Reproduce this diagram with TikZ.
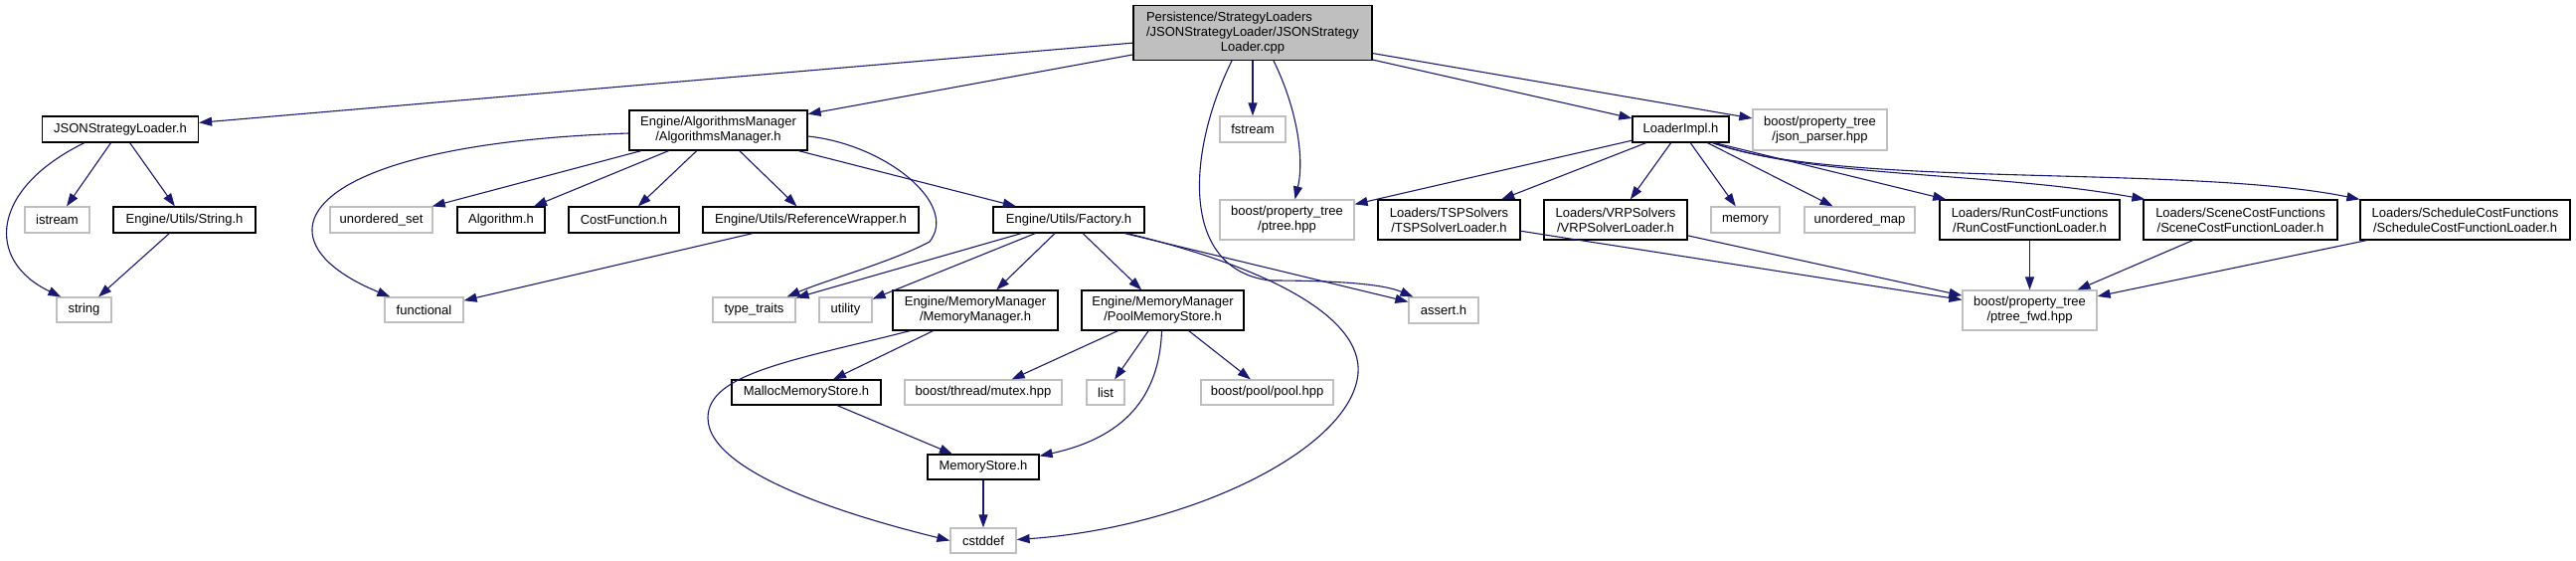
\documentclass[tikz,border=0pt]{standalone}
\usepackage{fontspec}
\setmainfont{Liberation Sans}
\usetikzlibrary{arrows.meta,calc}
\definecolor{edgeblue}{HTML}{191970}
\definecolor{lgray}{HTML}{BFBFBF}
\begin{document}
\begin{tikzpicture}[x=1pt,y=1pt,
  base/.style={rectangle,inner sep=0pt,minimum height=26pt,align=center,
    font=\fontsize{13}{15}\selectfont,line width=1.2pt},
  hdr/.style={base,draw=black,fill=white},
  ext/.style={base,draw=lgray,fill=white},
  mainst/.style={base,draw=black,fill=lgray},
  e/.style={draw=edgeblue,line width=1.1pt,-{Triangle[length=13pt,width=9pt]}}]
\useasboundingbox[fill=white] (0,0) rectangle (2591,-563);

% row 0
\node[mainst,minimum width=240pt,minimum height=55pt] (main) at (1260,-33)
  {\makebox[0pt][l]{Persistence/StrategyLoaders}\phantom{/JSONStrategyLoader/JSONStrategy}\\/JSONStrategyLoader/JSONStrategy\\Loader.cpp};
% row 1
\node[hdr,minimum width=157pt] (jsl) at (121,-130) {JSONStrategyLoader.h};
\node[hdr,minimum width=179pt,minimum height=40pt] (am) at (722.5,-131) {Engine/AlgorithmsManager\\/AlgorithmsManager.h};
\node[ext,minimum width=66pt] (fstream) at (1260,-130) {fstream};
\node[hdr,minimum width=97pt] (li) at (1690.5,-130) {LoaderImpl.h};
\node[ext,minimum width=135pt,minimum height=41pt] (json) at (1830.5,-130.5) {boost/property\_tree\\/json\_parser.hpp};
% row 2
\node[ext,minimum width=65pt] (istream) at (57.5,-221) {istream};
\node[hdr,minimum width=143pt] (strh) at (185.5,-221) {Engine/Utils/String.h};
\node[ext,minimum width=103pt] (uset) at (383.5,-221) {unordered\_set};
\node[hdr,minimum width=88pt] (algo) at (504,-221) {Algorithm.h};
\node[hdr,minimum width=111pt] (cost) at (627.5,-221) {CostFunction.h};
\node[hdr,minimum width=217pt] (rw) at (815.5,-221) {Engine/Utils/ReferenceWrapper.h};
\node[hdr,minimum width=152pt] (fact) at (1075,-221) {Engine/Utils/Factory.h};
\node[ext,minimum width=135pt,minimum height=40pt] (ptree) at (1294.5,-221) {boost/property\_tree\\/ptree.hpp};
\node[hdr,minimum width=143pt,minimum height=40pt] (tsp) at (1457.5,-221) {Loaders/TSPSolvers\\/TSPSolverLoader.h};
\node[hdr,minimum width=144pt,minimum height=40pt] (vrp) at (1625,-221) {Loaders/VRPSolvers\\/VRPSolverLoader.h};
\node[ext,minimum width=69pt] (memory) at (1755.5,-221) {memory};
\node[ext,minimum width=111pt] (umap) at (1870.5,-221) {unordered\_map};
\node[hdr,minimum width=181pt,minimum height=40pt] (run) at (2041.5,-221) {Loaders/RunCostFunctions\\/RunCostFunctionLoader.h};
\node[hdr,minimum width=195pt,minimum height=40pt] (scene) at (2253.5,-221) {Loaders/SceneCostFunctions\\/SceneCostFunctionLoader.h};
\node[hdr,minimum width=211pt,minimum height=40pt] (sched) at (2479.5,-221) {Loaders/ScheduleCostFunctions\\/ScheduleCostFunctionLoader.h};
% row 3
\node[ext,minimum width=55pt,minimum height=25pt] (string) at (84.5,-311.5) {string};
\node[ext,minimum width=79pt,minimum height=25pt] (functional) at (426.5,-311.5) {functional};
\node[ext,minimum width=83pt,minimum height=25pt] (tt) at (758.5,-311.5) {type\_traits};
\node[ext,minimum width=53pt,minimum height=25pt] (util) at (850.5,-311.5) {utility};
\node[hdr,minimum width=166pt,minimum height=40pt] (mm) at (981,-312) {Engine/MemoryManager\\/MemoryManager.h};
\node[hdr,minimum width=163pt,minimum height=40pt] (pms) at (1169.5,-312) {Engine/MemoryManager\\/PoolMemoryStore.h};
\node[ext,minimum width=70pt] (assert) at (1452,-312) {assert.h};
\node[ext,minimum width=135pt,minimum height=40pt] (ptfwd) at (2041.5,-312) {boost/property\_tree\\/ptree\_fwd.hpp};
% row 4
\node[hdr,minimum width=150pt,minimum height=25pt] (malloc) at (811,-394.5) {MallocMemoryStore.h};
\node[ext,minimum width=158pt,minimum height=25pt] (mutex) at (989,-394.5) {boost/thread/mutex.hpp};
\node[ext,minimum width=38pt,minimum height=25pt] (list) at (1112,-394.5) {list};
\node[ext,minimum width=133pt,minimum height=25pt] (pool) at (1274.5,-394.5) {boost/pool/pool.hpp};
% row 5
\node[hdr,minimum width=112pt,minimum height=25pt] (ms) at (989,-469.5) {MemoryStore.h};
% row 6
\node[ext,minimum width=66pt,minimum height=25pt] (cstddef) at (989,-543.5) {cstddef};

% edges from main
\draw[e] (main) -- (jsl);
\draw[e] (main) -- (am);
\draw[e] (main) -- (fstream);
\draw[e] (main) -- (li);
\draw[e] (main) -- (json);
\draw[e] ($(main.south)+(21,0)$) .. controls (1305,-110) and (1312,-160) .. ($(ptree.north)+(8,0)$);
\draw[e] ($(main.south)+(-21,0)$) .. controls (1195,-150) and (1185,-270) .. (1277,-282)
  .. controls (1340,-282) and (1390,-285) .. ($(assert.north west)+(5,0)$);

% JSONStrategyLoader.h
\draw[e] ($(jsl.south west)+(43,0)$) .. controls (-10,-190) and (-15,-262) .. ($(string.north west)+(5,0)$);
\draw[e] (jsl) -- (istream);
\draw[e] (jsl) -- (strh);
\draw[e] (strh) -- (string);

% AlgorithmsManager.h
\draw[e] ($(am.west)+(0,-3)$) .. controls (300,-145) and (250,-240) .. ($(functional.north west)+(6,0)$);
\draw[e] (am) -- (uset);
\draw[e] (am) -- (algo);
\draw[e] (am) -- (cost);
\draw[e] (am) -- (rw);
\draw[e] (am) -- (fact);
\draw[e] ($(am.east)+(0,-6)$) .. controls (890,-145) and (965,-205) .. (935,-243)
  .. controls (900,-262) and (830,-282) .. ($(tt.north east)+(-9,0)$);
\draw[e] (rw) -- (functional);

% Factory.h
\draw[e] (fact) -- (tt);
\draw[e] (fact) -- (util);
\draw[e] (fact) -- (mm);
\draw[e] (fact) -- (pms);
\draw[e] (fact) -- (assert);
\draw[e] ($(fact.south east)+(-18,0)$) .. controls (1280,-270) and (1370,-320) .. (1366,-375)
  .. controls (1360,-450) and (1200,-530) .. ($(cstddef.east)+(0,1)$);

% MemoryManager.h
\draw[e] (mm) -- (malloc);
\draw[e] ($(mm.south west)+(18,0)$) .. controls (800,-362) and (712,-375) .. (712,-420)
  .. controls (712,-480) and (880,-525) .. (cstddef.west);

% PoolMemoryStore.h
\draw[e] (pms) -- (mutex);
\draw[e] (pms) -- (list);
\draw[e] (pms) -- (pool);
\draw[e] ($(pms.south)+(-1,0)$) .. controls (1166,-400) and (1130,-440) .. ($(ms.north east)+(0,-2)$);

\draw[e] (malloc) -- (ms);
\draw[e] (ms) -- (cstddef);

% LoaderImpl.h
\draw[e] (li) -- (ptree);
\draw[e] (li) -- (tsp);
\draw[e] (li) -- (vrp);
\draw[e] (li) -- (memory);
\draw[e] (li) -- (umap);
\draw[e] ($(li.south east)+(-15,0)$) -- (run);
\draw[e] ($(li.south east)+(-17,0)$) .. controls (1830,-180) and (2000,-172) .. ($(scene.north west)+(2,0)$);
\draw[e] ($(li.south east)+(-17,0)$) .. controls (1850,-190) and (2200,-165) .. (sched.north west);

% to ptree_fwd
\draw[e] (tsp) -- (ptfwd);
\draw[e] (vrp) -- (ptfwd);
\draw[e] (run) -- (ptfwd);
\draw[e] (scene) -- (ptfwd);
\draw[e] (sched) -- (ptfwd);
\end{tikzpicture}
\end{document}
